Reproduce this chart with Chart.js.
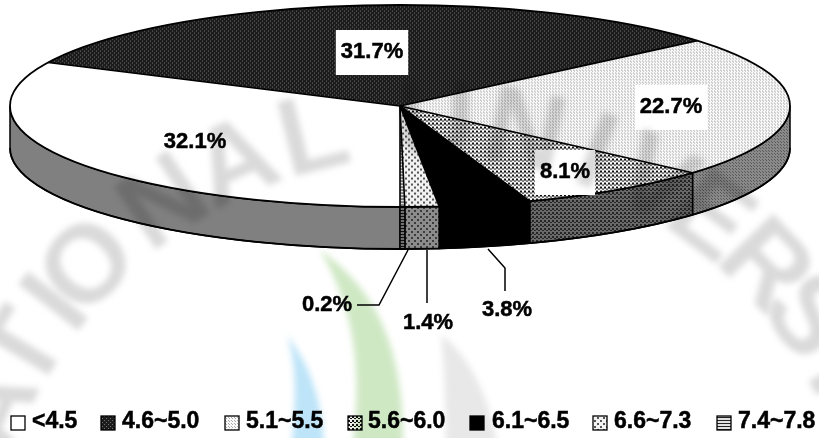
<!DOCTYPE html>
<html>
<head>
<meta charset="utf-8">
<style>
html,body{margin:0;padding:0;background:#fff}
canvas{display:block}
</style>
<script src="https://cdn.jsdelivr.net/npm/chart.js@4"></script>
</head>
<body>
<canvas id="pie" width="819" height="438"></canvas>
<script>
// pH classes and their share of samples (%)
const categories = ['<4.5', '4.6~5.0', '5.1~5.5', '5.6~6.0', '6.1~6.5', '6.6~7.3', '7.4~7.8'];
const shares = [32.1, 31.7, 22.7, 8.1, 3.8, 1.4, 0.2];

// Label placement: boxed slices sit on the disc, thin slices use leader lines
const labelSpots = [[195, 142, false], [372, 52, true], [671, 107, true], [565, 172, true], [507, 310, false], [428, 323, false], [327, 305, false]];
const leaders = [
  [[488, 249], [505, 268], [505, 291]],
  [[427, 250], [427, 303]],
  [[408, 250], [379, 305], [357, 305]]
];
const legendSwatchX = [11, 101, 225, 348, 470, 593, 717];
const legendTextX = [32, 122, 246, 368, 492, 614, 738];

// Seal printed behind the chart
const sealLetters = ['N', 'A', 'T', 'I', 'O', 'N', 'A', 'L', 'U', 'N', 'I', 'V', 'E', 'R', 'S', 'I'];
const sealAngles = [-76, -67, -59, -52, -46, -34, -24, -14, 1, 12, 21, 29, 37, 46, 54, 62];

const RX = 390, RY = 101, DEPTH = 42;
const SQUASH = RY / RX;

// Builds a repeating tile; `squash` undoes the vertical scale applied to the disc
function tile(size, bg, fg, cells, squash) {
  const c = document.createElement('canvas');
  c.width = size[0]; c.height = size[1];
  const g = c.getContext('2d');
  g.fillStyle = bg; g.fillRect(0, 0, size[0], size[1]);
  g.fillStyle = fg;
  cells.forEach(p => g.fillRect(p[0], p[1], p[2] || 1, p[3] || 1));
  const pat = g.createPattern(c, 'repeat');
  if (squash) pat.setTransform(new DOMMatrix().scale(1, 1 / SQUASH));
  return pat;
}

const dotsA = [[0, 0], [2, 2]];
const dotsB = [[0, 0, 2, 2], [2, 2, 2, 1]];
const dotsC = [[0, 0, 2, 2], [3, 3, 2, 2]];
function fills(squash) {
  return [
    '#ffffff',
    tile([4, 4], '#1c1c1c', '#6e6e6e', dotsA, squash),
    tile([3, 3], '#f8f8f8', '#a8a8a8', [[0, 0], [1, 1]], squash),
    tile([4, 4], '#f4f4f4', '#111111', dotsB, squash),
    '#000000',
    tile([6, 6], '#f2f2f2', '#555555', dotsC, squash),
    tile([3, 3], '#e0e0e0', '#222222', [[0, 0, 3, 1]], squash)
  ];
}
const wallFills = [
  '#808080',
  '#333333',
  tile([3, 3], '#8a8a8a', '#5a5a5a', [[0, 0], [1, 1]], false),
  tile([4, 4], '#6a6a6a', '#262626', dotsB, false),
  '#000000',
  tile([6, 6], '#8c8c8c', '#3c3c3c', dotsC, false),
  tile([3, 3], '#707070', '#111111', [[0, 0, 3, 1]], false)
];
const flatFills = fills(false);

const TWO_PI = Math.PI * 2;

// Side wall below the disc, taken from each arc's own angles
function drawWalls(ctx, arcs) {
  arcs.forEach((arc, i) => {
    [0, TWO_PI].forEach(shift => {
      const s = Math.max(arc.startAngle, shift);
      const e = Math.min(arc.endAngle, shift + Math.PI);
      if (e <= s) return;
      ctx.beginPath();
      ctx.ellipse(arc.x, arc.y, RX, RY, 0, s, e);
      ctx.ellipse(arc.x, arc.y + DEPTH, RX, RY, 0, e, s, true);
      ctx.closePath();
      ctx.fillStyle = wallFills[i];
      ctx.fill();
      ctx.strokeStyle = '#000';
      ctx.lineWidth = 1.5;
      ctx.stroke();
    });
  });
}

function drawRim(ctx, arcs) {
  const cx = arcs[0].x, cy = arcs[0].y;
  ctx.strokeStyle = '#000';
  ctx.lineWidth = 1.8;
  ctx.beginPath();
  ctx.ellipse(cx, cy + DEPTH, RX, RY, 0, 0, Math.PI);
  ctx.stroke();
  ctx.beginPath();
  ctx.ellipse(cx, cy, RX, RY, 0, 0, TWO_PI);
  ctx.stroke();
  ctx.lineWidth = 1.6;
  arcs.forEach(arc => {
    ctx.beginPath();
    ctx.moveTo(cx, cy);
    ctx.lineTo(cx + Math.cos(arc.startAngle) * RX, cy + Math.sin(arc.startAngle) * RY);
    ctx.stroke();
  });
}

// Bold text with a hairline outline so the figures read heavy
function heavyText(ctx, text, x, y) {
  ctx.fillStyle = '#000';
  ctx.strokeStyle = '#000';
  ctx.lineWidth = 0.5;
  ctx.strokeText(text, x, y);
  ctx.fillText(text, x, y);
}

function drawLabels(ctx) {
  ctx.font = 'bold 22px "Liberation Sans", Arial, sans-serif';
  ctx.textAlign = 'center';
  ctx.textBaseline = 'middle';
  shares.forEach((v, i) => {
    const [x, y, boxed] = labelSpots[i];
    const text = v.toFixed(1) + '%';
    if (boxed) {
      const w = ctx.measureText(text).width + 10;
      ctx.fillStyle = '#fff';
      ctx.fillRect(x - w / 2, y - 22, w, 45);
    }
    heavyText(ctx, text, x, y);
  });
  ctx.strokeStyle = '#000';
  ctx.lineWidth = 1.5;
  leaders.forEach(line => {
    ctx.beginPath();
    line.forEach((p, k) => k ? ctx.lineTo(p[0], p[1]) : ctx.moveTo(p[0], p[1]));
    ctx.stroke();
  });
}

function drawLegend(ctx) {
  ctx.font = 'bold 23px "Liberation Sans", Arial, sans-serif';
  ctx.textAlign = 'left';
  ctx.textBaseline = 'middle';
  categories.forEach((name, i) => {
    ctx.fillStyle = flatFills[i];
    ctx.fillRect(legendSwatchX[i], 416, 14, 14);
    ctx.strokeStyle = '#000';
    ctx.lineWidth = 1.3;
    ctx.strokeRect(legendSwatchX[i], 416, 14, 14);
    heavyText(ctx, name, legendTextX[i], 422);
  });
}

// Faint leaf emblem and lettering, multiplied over everything drawn so far
function drawSeal(ctx) {
  ctx.save();
  ctx.globalCompositeOperation = 'multiply';
  ctx.filter = 'blur(3px)';
  const leaf = (colour, build) => {
    ctx.fillStyle = colour;
    ctx.beginPath();
    build();
    ctx.closePath();
    ctx.fill();
  };
  leaf('#cfe8c4', () => {
    ctx.moveTo(320, 250);
    ctx.bezierCurveTo(370, 285, 405, 340, 403, 445);
    ctx.lineTo(353, 445);
    ctx.bezierCurveTo(362, 370, 355, 310, 320, 250);
  });
  leaf('#bde4f8', () => {
    ctx.moveTo(287, 335);
    ctx.bezierCurveTo(310, 365, 322, 400, 324, 445);
    ctx.lineTo(292, 445);
    ctx.bezierCurveTo(296, 400, 297, 365, 287, 335);
  });
  leaf('#e8e8e8', () => {
    ctx.moveTo(441, 335);
    ctx.bezierCurveTo(470, 355, 490, 400, 497, 445);
    ctx.lineTo(446, 445);
    ctx.bezierCurveTo(446, 400, 444, 365, 441, 335);
  });
  ctx.fillStyle = '#dadada';
  ctx.font = 'bold 110px "Liberation Sans", Arial, sans-serif';
  ctx.textAlign = 'center';
  ctx.textBaseline = 'middle';
  sealLetters.forEach((ch, i) => {
    const a = sealAngles[i] * Math.PI / 180;
    ctx.save();
    ctx.translate(427 + Math.sin(a) * 467, 593 - Math.cos(a) * 467);
    ctx.rotate(a);
    ctx.fillText(ch, 0, 0);
    ctx.restore();
  });
  ctx.restore();
}

const tiltedDisc = {
  id: 'tiltedDisc',
  beforeDraw(chart) {
    const ctx = chart.ctx;
    ctx.save();
    ctx.fillStyle = '#fff';
    ctx.fillRect(0, 0, chart.width, chart.height);
    ctx.restore();
  },
  beforeDatasetsDraw(chart) {
    const ctx = chart.ctx;
    const arcs = chart.getDatasetMeta(0).data;
    drawWalls(ctx, arcs);
    ctx.save();
    ctx.translate(arcs[0].x, arcs[0].y);
    ctx.scale(1, SQUASH);
    ctx.translate(-arcs[0].x, -arcs[0].y);
  },
  afterDatasetsDraw(chart) {
    const ctx = chart.ctx;
    ctx.restore();
    const arcs = chart.getDatasetMeta(0).data;
    ctx.save();
    drawRim(ctx, arcs);
    drawLabels(ctx);
    drawLegend(ctx);
    drawSeal(ctx);
    ctx.restore();
  }
};

new Chart(document.getElementById('pie'), {
  type: 'pie',
  data: {
    labels: categories,
    datasets: [{
      data: shares,
      backgroundColor: fills(true),
      borderWidth: 0,
      radius: RX,
      clip: false
    }]
  },
  options: {
    responsive: false,
    animation: false,
    rotation: 180,
    layout: { padding: { left: 0, right: 19, top: 0, bottom: 226 } },
    plugins: { legend: { display: false }, tooltip: { enabled: false } }
  },
  plugins: [tiltedDisc]
});
</script>
</body>
</html>
